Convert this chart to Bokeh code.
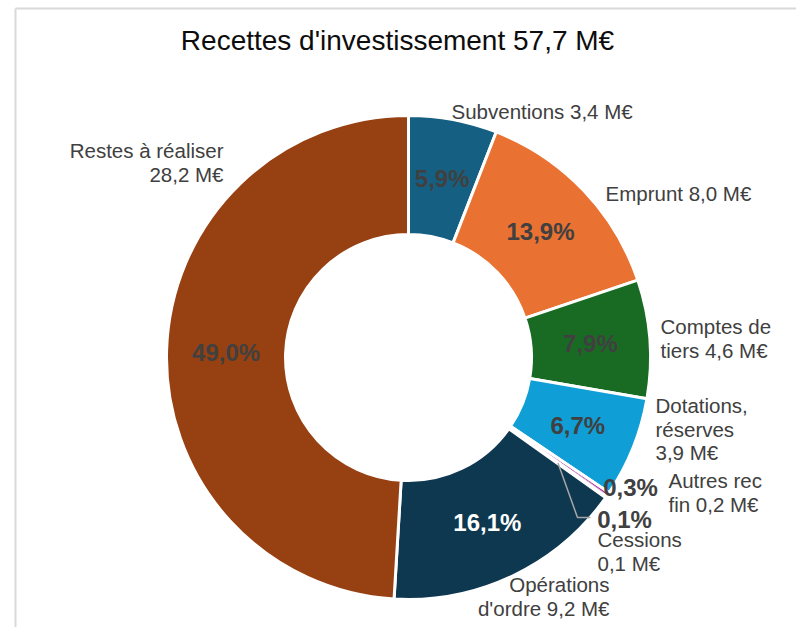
import math
from bokeh.plotting import figure
from bokeh.models import Range1d
from bokeh.embed import file_html
from bokeh.resources import INLINE
from bokeh.core.properties import value

# ---------------- data ----------------
title_text = "Recettes d'investissement 57,7 M€"
categories = ["Subventions", "Emprunt", "Comptes de tiers", "Dotations, réserves",
              "Autres rec fin", "Cessions", "Opérations d'ordre", "Restes à réaliser"]
amounts = [3.4, 8.0, 4.6, 3.9, 0.2, 0.1, 9.2, 28.2]          # M€
shares = [5.9, 13.9, 7.9, 6.7, 0.3, 0.1, 16.1, 49.0]          # %

# ---------------- styles / layout ----------------
colors = ["#156082", "#E97132", "#196B24", "#0F9ED5", "#A02B93", "#4EA72E", "#0E3850", "#974011"]
pct_colors = ["#404040"] * 6 + ["#FFFFFF", "#404040"]
FONT = "Liberation Sans"
W, H = 796, 627
OX, OY = 0, 0
CX, CY = 408, 357          # page px
R_OUT, R_IN = 242, 123
# label layout: x anchor, first baseline (page px), align, word breaks
label_layout = [
    (451, 111, "left", []),
    (605, 193, "left", []),
    (660, 326, "left", [2]),
    (655, 405, "left", [1, 2]),
    (668, 480, "left", [2]),
    (597, 539, "left", [1]),
    (609, 584, "right", [1]),
    (223, 150, "right", [3]),
]
LINE_H = 23.5
# small slices: percent label placed outside (page px), None = inside at mid radius
pct_outside = [None, None, None, None, (630, 487), (624, 519), None, None]
leaders = {4: ("#DDA6D6", 1, 200, [(603, 492)]),
           5: ("#A6A6A6", 1.5, 183, [(577, 517), (590, 517)])}


def dy(py):
    return (OY + H) - py


p = figure(width=W, height=H, output_backend="svg", toolbar_location=None,
           x_range=Range1d(OX, OX + W), y_range=Range1d(0, H),
           min_border=0, min_border_left=0, min_border_right=0,
           min_border_top=0, min_border_bottom=0)
p.axis.visible = False
p.grid.visible = False
p.outline_line_color = None
p.background_fill_color = "white"
p.border_fill_color = "white"

# frame lines (chart area border, partly cropped)
p.line([15, 15], [0, dy(8)], line_color="#D9D9D9", line_width=2)
p.line([15, OX + W], [dy(8), dy(8)], line_color="#D9D9D9", line_width=2)

total = sum(shares)
cx, cy = CX, dy(CY)
cum = 0.0
mids = []
for i, s in enumerate(shares):
    t1 = cum / total * 2 * math.pi
    cum += s
    t2 = cum / total * 2 * math.pi
    mids.append((t1 + t2) / 2)
    p.annular_wedge(x=cx, y=cy, inner_radius=R_IN, outer_radius=R_OUT,
                    start_angle=math.pi / 2 - t2, end_angle=math.pi / 2 - t1,
                    direction="anticlock", fill_color=colors[i],
                    line_color="white", line_width=3)

# leader lines
for i, (col, lw, r, pts) in leaders.items():
    a = mids[i]
    xs = [cx + r * math.sin(a)] + [q[0] for q in pts]
    ys = [cy + r * math.cos(a)] + [dy(q[1]) for q in pts]
    p.line(xs, ys, line_color=col, line_width=lw)

# percent labels
R_MID = (R_IN + R_OUT) / 2
for i, s in enumerate(shares):
    txt = f"{s:.1f}".replace(".", ",") + "%"
    if pct_outside[i] is None:
        x = cx + R_MID * math.sin(mids[i])
        y = cy + R_MID * math.cos(mids[i])
    else:
        x, y = pct_outside[i][0], dy(pct_outside[i][1])
    p.text(x=[x], y=[y], text=[txt], text_font=value(FONT), text_font_size="24px",
           text_font_style="bold", text_color=pct_colors[i],
           text_align="center", text_baseline="middle")

# category labels
for i, cat in enumerate(categories):
    amt = f"{amounts[i]:.1f}".replace(".", ",") + " M€"
    words = (cat + " " + amt).split(" ")
    x0, b0, align, brk = label_layout[i]
    cuts = [0] + brk + [len(words)]
    lines = [" ".join(words[cuts[k]:cuts[k + 1]]) for k in range(len(cuts) - 1)]
    for k, ln in enumerate(lines):
        p.text(x=[x0], y=[dy(b0 + k * LINE_H)], text=[ln], text_font=value(FONT),
               text_font_size="20.5px", text_color="#404040",
               text_align=align, text_baseline="alphabetic")

# title
p.text(x=[397], y=[dy(40)], text=[title_text], text_font=value(FONT),
       text_font_size="28px", text_color="#0D0D0D",
       text_align="center", text_baseline="alphabetic")

open("out.html", "w").write(file_html(p, INLINE))
